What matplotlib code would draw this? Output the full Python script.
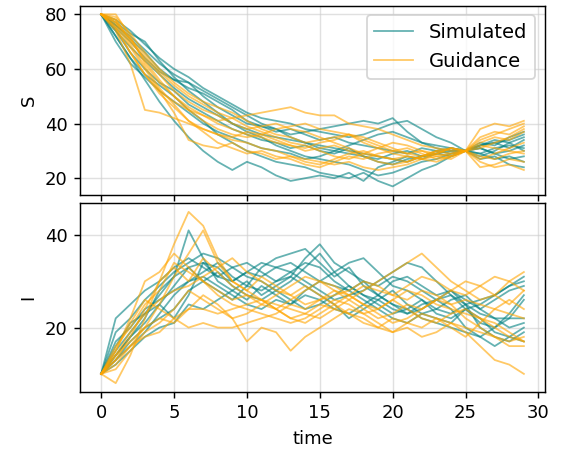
import matplotlib
matplotlib.use("Agg")
import matplotlib.pyplot as plt
import numpy as np

time = list(range(30))

sim_S = [
    [80,76,71,66,60,56,55,50,46,43,40,39,37,38,36,34,35,33,32,31,30,29,31,30,29,30,32,33,31,34],
    [80,74,66,60,55,52,47,44,41,38,36,34,33,31,32,30,29,31,28,27,29,30,28,29,31,30,29,27,28,26],
    [80,77,73,70,63,57,52,48,44,40,37,35,32,30,28,27,26,25,23,21,22,24,26,27,29,30,33,32,35,37],
    [80,72,64,58,54,50,45,41,36,33,30,28,26,25,24,22,21,20,22,19,17,20,23,25,28,30,31,29,30,32],
    [80,75,70,64,59,56,53,51,48,45,41,39,38,36,37,38,39,40,41,40,42,37,33,32,31,30,28,30,33,35],
    [80,70,62,57,52,48,44,40,37,35,33,31,30,29,27,28,30,32,34,36,37,35,33,31,30,30,29,31,32,31],
    [80,76,72,67,62,58,55,52,49,46,43,40,38,35,33,32,31,30,29,28,27,26,28,29,30,30,32,34,33,30],
    [80,72,64,56,48,41,35,30,26,23,26,24,21,19,20,21,20,22,19,24,26,28,27,29,28,30,27,28,25,24],
    [80,78,74,69,64,60,57,53,50,47,44,42,41,40,38,37,36,35,36,38,40,41,38,35,33,30,31,29,27,28],
    [80,74,68,63,58,53,49,46,43,40,38,36,35,34,33,31,30,29,28,26,25,27,28,30,31,30,32,33,34,36],
]
guid_S = [
    [80,80,72,62,55,50,46,43,40,38,36,35,33,32,31,33,34,36,35,33,31,29,30,29,31,30,34,36,38,40],
    [80,74,62,45,44,42,40,38,36,35,37,36,38,39,40,38,37,36,34,32,30,29,28,30,31,30,26,24,25,23],
    [80,76,68,60,52,44,34,32,31,33,30,29,27,28,26,25,27,29,30,28,27,26,28,29,31,30,32,31,30,29],
    [80,78,70,64,58,52,48,45,43,40,38,39,40,38,37,35,33,31,29,28,27,28,27,28,29,30,38,40,39,41],
    [80,77,69,61,53,47,41,38,36,34,33,31,30,28,27,26,25,26,24,23,24,25,27,26,28,30,33,35,34,37],
    [80,79,73,66,60,55,51,48,46,44,41,38,36,35,33,34,35,36,33,31,29,28,27,29,28,30,27,29,31,33],
    [80,75,66,58,51,46,41,37,33,31,29,30,28,27,25,24,26,28,27,29,30,31,29,27,28,30,31,33,35,38],
    [80,77,71,63,56,50,45,41,38,36,35,36,34,32,30,31,32,30,28,26,25,26,28,30,29,30,24,25,27,26],
    [80,75,66,58,52,48,45,43,41,42,43,44,45,46,44,43,43,40,39,38,36,34,32,31,30,30,28,27,29,30],
    [80,78,71,65,59,54,50,47,44,42,39,37,35,33,32,30,28,27,29,31,33,32,30,28,27,30,35,37,36,39],
]
sim_I = [
    [10,22,25,28,30,33,35,33,31,30,32,31,33,34,32,30,29,28,30,27,25,24,26,23,22,24,25,27,29,31],
    [10,15,19,23,27,31,41,35,30,28,26,29,27,25,28,30,32,29,27,26,28,25,23,22,21,24,22,19,18,17],
    [10,14,18,21,25,29,33,34,31,33,34,32,30,31,35,38,34,32,30,29,31,30,28,26,27,25,26,27,29,30],
    [10,13,17,20,22,24,28,30,32,29,27,26,28,30,33,36,32,34,35,32,29,28,26,24,23,25,20,18,17,19],
    [10,17,20,24,26,28,30,31,29,27,25,24,26,25,27,26,24,23,25,27,30,31,29,27,28,26,24,22,22,22],
    [10,16,21,23,25,22,27,34,33,30,32,34,33,32,30,28,26,27,28,30,32,34,33,30,27,24,21,20,22,26],
    [10,12,15,18,20,21,25,24,26,28,30,27,29,31,29,27,25,22,24,26,24,23,25,26,24,20,18,20,23,27],
    [10,19,22,26,29,32,34,36,35,33,31,30,28,26,24,25,27,29,27,25,23,24,22,21,20,19,18,16,18,20],
    [10,14,18,22,28,31,33,30,28,26,29,33,35,36,37,34,31,33,29,27,25,23,24,26,28,25,23,22,20,21],
    [10,13,16,19,23,27,30,32,34,31,29,28,30,32,34,33,30,28,26,24,22,21,23,24,26,27,24,26,28,29],
]
guid_I = [
    [10,8,14,22,30,38,45,42,35,30,28,31,29,27,25,26,28,27,25,24,26,28,27,25,24,23,22,21,19,17],
    [10,15,22,30,32,36,33,30,28,26,27,25,24,26,28,30,29,27,25,23,21,22,24,26,25,22,20,18,16,16],
    [10,13,18,24,30,33,30,35,32,29,27,26,24,22,23,25,24,26,28,30,32,34,36,33,30,28,26,27,30,32],
    [10,14,17,20,22,21,24,27,25,22,17,20,19,15,18,20,22,24,23,21,19,20,18,19,21,19,16,13,12,10],
    [10,11,15,19,21,24,28,26,24,22,23,25,27,29,31,30,28,26,24,22,23,25,24,26,28,30,29,27,25,28],
    [10,16,20,25,28,34,32,30,27,25,24,23,22,21,22,24,26,25,23,24,26,24,22,21,23,24,22,20,18,17],
    [10,12,16,18,19,22,24,24,23,24,25,26,24,22,21,23,25,27,29,28,27,29,31,30,28,27,29,31,30,28],
    [10,14,19,23,26,28,29,31,33,35,32,30,28,27,29,27,25,23,22,20,19,21,23,22,20,18,21,24,26,24],
    [10,13,16,20,25,31,36,41,34,30,28,26,25,24,23,22,24,23,21,20,22,21,20,22,21,20,19,18,17,18],
    [10,15,21,26,24,22,20,21,20,20,21,22,23,25,24,26,27,28,30,29,27,26,28,27,25,26,25,24,23,22],
]

DPI = 130
fig = plt.figure(figsize=(563 / DPI, 454 / DPI), dpi=DPI)
ax1 = fig.add_axes([80 / 563, 1 - 195 / 454, 465 / 563, 189.3 / 454])
ax2 = fig.add_axes([80 / 563, 1 - 391.7 / 454, 465 / 563, 188.4 / 454], sharex=ax1)

teal = "#008080"
orange = "orange"
lw = 1.0
al = 0.6

for i, s in enumerate(sim_S):
    ax1.plot(time, s, color=teal, alpha=al, lw=lw, label="Simulated" if i == 0 else None)
for i, s in enumerate(guid_S):
    ax1.plot(time, s, color=orange, alpha=al, lw=lw, label="Guidance" if i == 0 else None)
for s in sim_I:
    ax2.plot(time, s, color=teal, alpha=al, lw=lw)
for s in guid_I:
    ax2.plot(time, s, color=orange, alpha=al, lw=lw)

ax1.set_ylabel("S")
ax2.set_ylabel("I")
ax2.set_xlabel("time")
ax1.set_yticks([20, 40, 60, 80])
ax2.set_yticks([20, 40])
ax2.set_xticks([0, 5, 10, 15, 20, 25, 30])
ax1.tick_params(labelbottom=False)
for ax in (ax1, ax2):
    ax.grid(True, color="#cccccc", alpha=0.6, lw=0.8)
ax1.legend(loc="upper right", fontsize=10.8)

fig.savefig("out.png", dpi=DPI)
